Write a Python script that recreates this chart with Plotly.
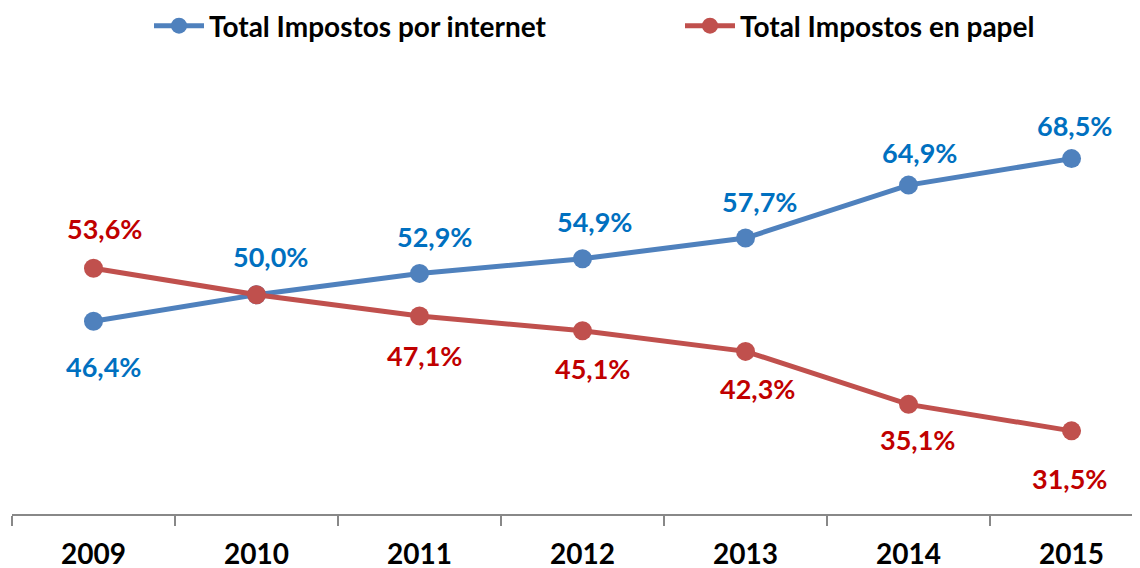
import plotly.graph_objects as go

years = ["2009", "2010", "2011", "2012", "2013", "2014", "2015"]
internet = [46.4, 50.0, 52.9, 54.9, 57.7, 64.9, 68.5]
papel = [53.6, 50.0, 47.1, 45.1, 42.3, 35.1, 31.5]
name_internet = "Total Impostos por internet"
name_papel = "Total Impostos en papel"

# label placement (style, not data)
internet_yshift = [-45, 38, 37, 37, 37, 33, 33]
internet_xshift = [10, 14, 15, 12, 14, 11, 3]
papel_yshift = [40, None, -39, -38, -37, -35, -48]
papel_xshift = [11, 0, 5, 10, 12, 9, -2]

FONT = "Lato"
FS = 27
FS_AX = 28
blue_line, red_line = "#4F81BD", "#C0504D"
blue_txt, red_txt = "#0070C0", "#C00000"

def fmt(v):
    return f"{v:.1f}%".replace(".", ",")

fig = go.Figure()
fig.add_trace(go.Scatter(x=years, y=internet, name=name_internet, mode="lines+markers",
                         line=dict(color=blue_line, width=5),
                         marker=dict(size=19, color=blue_line), legend="legend"))
fig.add_trace(go.Scatter(x=years, y=papel, name=name_papel, mode="lines+markers",
                         line=dict(color=red_line, width=5),
                         marker=dict(size=19, color=red_line), legend="legend2"))

for i, (v, ys, xs) in enumerate(zip(internet, internet_yshift, internet_xshift)):
    if ys is None:
        continue
    fig.add_annotation(x=i, y=v, text=fmt(v), showarrow=False, yshift=ys, xshift=xs,
                       font=dict(family=FONT, size=FS, color=blue_txt, weight="bold"))
for i, (v, ys, xs) in enumerate(zip(papel, papel_yshift, papel_xshift)):
    if ys is None:
        continue
    fig.add_annotation(x=i, y=v, text=fmt(v), showarrow=False, yshift=ys, xshift=xs,
                       font=dict(family=FONT, size=FS, color=red_txt, weight="bold"))

leg_common = dict(orientation="h", xanchor="left", yref="container", y=1 - 18 / 568,
                  yanchor="middle", itemwidth=50,
                  font=dict(family=FONT, size=FS_AX, color="black", weight="bold"))

fig.update_layout(
    width=1140, height=568,
    margin=dict(l=4, r=8, t=66, b=62, autoexpand=False),
    paper_bgcolor="white", plot_bgcolor="white",
    font=dict(family=FONT, size=FS, color="black"),
    showlegend=True,
    legend=dict(x=(149 - 12) / 1128, **leg_common),
    legend2=dict(x=(680 - 12) / 1128, **leg_common),
    xaxis=dict(type="category", tickson="boundaries", ticks="outside", ticklen=10,
               tickcolor="#888888", tickwidth=2, showline=True, linecolor="#888888",
               linewidth=2, showgrid=False, range=[-0.5, 6.42], automargin=False,
               ticklabelstandoff=14,
               tickfont=dict(family=FONT, size=FS_AX, color="black", weight="bold")),
    yaxis=dict(range=[20.2, 80], visible=False, showgrid=False, zeroline=False),
)

fig.write_html("out.html")
